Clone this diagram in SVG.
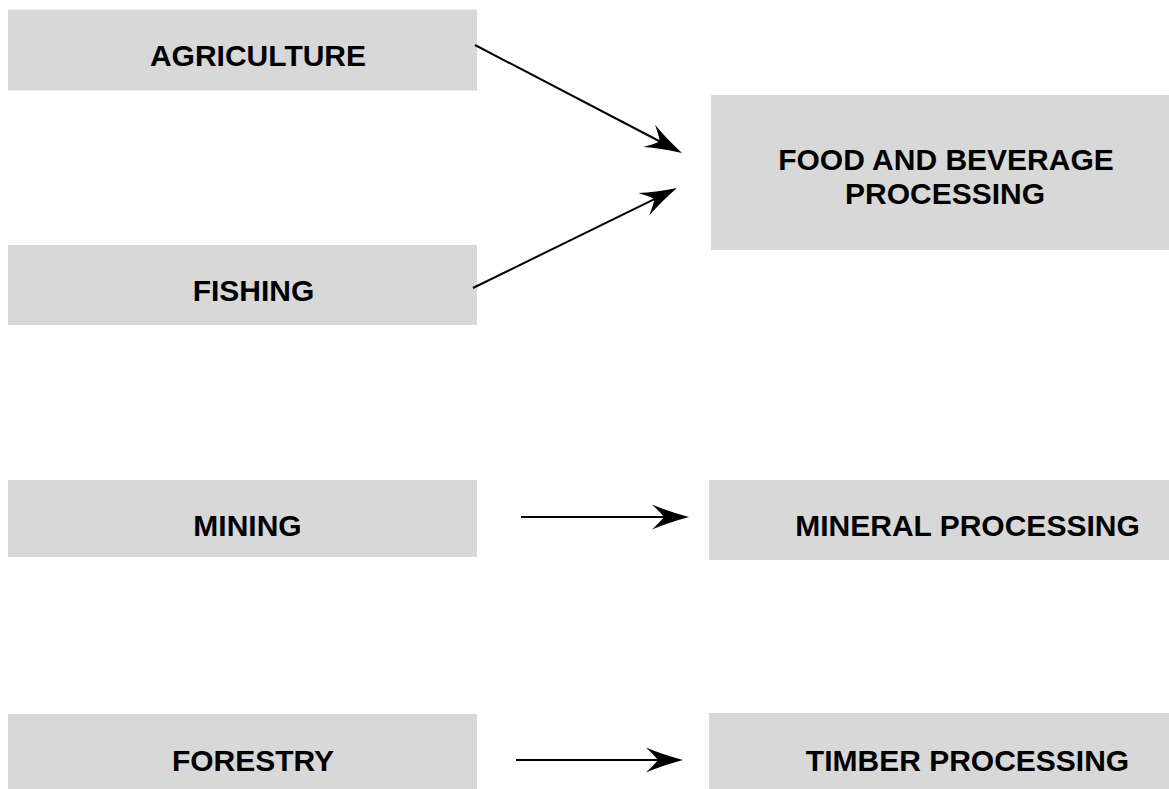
<svg xmlns="http://www.w3.org/2000/svg" width="1169" height="789" viewBox="0 0 1169 789">
<style>
.box{fill:#d8d8d8;stroke:none}
.lbl{font-family:"Liberation Sans",Arial,sans-serif;font-weight:bold;font-size:30px;fill:#000;text-anchor:middle}
.edge{stroke:#000;stroke-width:2;fill:none;marker-end:url(#ah)}
</style>
<defs>
<marker id="ah" markerUnits="userSpaceOnUse" orient="auto" viewBox="-40 -15 42 30" refX="-20" refY="0" markerWidth="42" markerHeight="30">
<path d="M0,0 Q-22,-6 -37,-12.5 Q-29,-5 -25,0 Q-29,5 -37,12.5 Q-22,6 0,0 Z" fill="#000"/>
</marker>
</defs>
<rect width="1169" height="789" fill="#fff"/>
<g id="agriculture"><rect class="box" x="8" y="9.5" width="469" height="81"/><text class="lbl" x="258" y="65.5">AGRICULTURE</text></g>
<g id="fishing"><rect class="box" x="8" y="245" width="469" height="80"/><text class="lbl" x="253.5" y="300.5">FISHING</text></g>
<g id="food"><rect class="box" x="711" y="95" width="458" height="155"/><text class="lbl" x="946" y="170">FOOD AND BEVERAGE</text><text class="lbl" x="945" y="204">PROCESSING</text></g>
<g id="mining"><rect class="box" x="8" y="480" width="469" height="77"/><text class="lbl" x="247.5" y="535.5">MINING</text></g>
<g id="mineral"><rect class="box" x="709" y="480" width="460" height="80"/><text class="lbl" x="967.5" y="535.5">MINERAL PROCESSING</text></g>
<g id="forestry"><rect class="box" x="8" y="714" width="469" height="75"/><text class="lbl" x="253" y="771">FORESTRY</text></g>
<g id="timber"><rect class="box" x="709" y="713" width="460" height="76"/><text class="lbl" x="967.5" y="771">TIMBER PROCESSING</text></g>
<g id="connectors">
<line class="edge" x1="475" y1="45" x2="664.3" y2="143.75"/>
<line class="edge" x1="473" y1="288" x2="659" y2="196.8"/>
<line class="edge" x1="521" y1="517" x2="669" y2="517"/>
<line class="edge" x1="516" y1="760" x2="663" y2="760"/>
</g>
</svg>
